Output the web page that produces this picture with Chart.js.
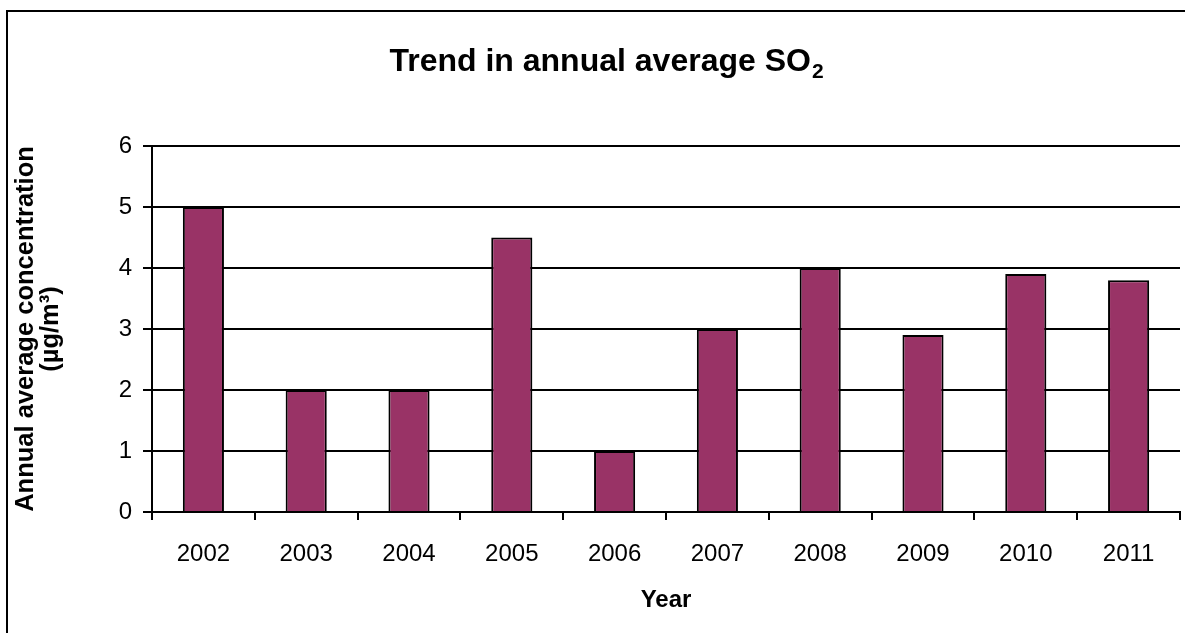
<!DOCTYPE html>
<html>
<head>
<meta charset="utf-8">
<script src="https://cdn.jsdelivr.net/npm/chart.js@4/dist/chart.umd.min.js"></script>
<style>
  html, body { margin: 0; padding: 0; background: #fff; overflow: hidden; }
  #wrap { position: relative; width: 1185px; height: 633px; }
  #frame { position: absolute; left: 6px; top: 10px; width: 2000px; height: 2000px;
           border-left: 2px solid #000; border-top: 2px solid #000; pointer-events: none; }
  canvas { position: absolute; left: 0; top: 0; }
</style>
</head>
<body>
<div id="wrap">
  <canvas id="c" width="1185" height="633"></canvas>
  <div id="frame"></div>
</div>
<script>
// Annual average SO2 concentration by year
const years = ['2002', '2003', '2004', '2005', '2006', '2007', '2008', '2009', '2010', '2011'];
const so2Values = [5, 2, 2, 4.5, 1, 3, 4, 2.9, 3.9, 3.8];
const yTicks = [0, 1, 2, 3, 4, 5, 6];

const FONT = '"Liberation Sans", Arial, Helvetica, sans-serif';

// Title with a subscript "2" drawn after the main text
const subscriptTitle = {
  id: 'subscriptTitle',
  afterDraw(chart) {
    const ctx = chart.ctx;
    const main = 'Trend in annual average SO';
    const sub = '2';
    ctx.save();
    ctx.fillStyle = '#000';
    ctx.textBaseline = 'alphabetic';
    ctx.font = 'bold 32px ' + FONT;
    const wMain = ctx.measureText(main).width;
    ctx.font = 'bold 21px ' + FONT;
    const wSub = ctx.measureText(sub).width;
    const cx = 606;
    const x0 = cx - (wMain + wSub) / 2;
    const baseline = 71;
    ctx.font = 'bold 32px ' + FONT;
    ctx.textAlign = 'left';
    ctx.fillText(main, x0, baseline);
    ctx.font = 'bold 21px ' + FONT;
    ctx.fillText(sub, x0 + wMain + 1, baseline + 7);
    ctx.restore();
  }
};

new Chart(document.getElementById('c'), {
  type: 'bar',
  data: {
    labels: years,
    datasets: [{
      data: so2Values,
      backgroundColor: '#993366',
      borderColor: '#000',
      borderWidth: 2,
      barPercentage: 0.4,
      categoryPercentage: 1.0
    }]
  },
  options: {
    responsive: false,
    animation: false,
    layout: { padding: { top: 146, right: 5, left: 0, bottom: 0 } },
    plugins: {
      legend: { display: false },
      title: { display: false },
      tooltip: { enabled: false }
    },
    scales: {
      x: {
        afterFit(scale) { scale.height = 121; },
        grid: {
          offset: true,
          drawOnChartArea: false,
          drawTicks: true,
          tickLength: 8,
          color: '#000',
          lineWidth: 2
        },
        border: { display: true, color: '#000', width: 2 },
        ticks: {
          color: '#000',
          padding: 20,
          font: { family: FONT, size: 24 },
          maxRotation: 0
        },
        title: {
          display: true,
          text: 'Year',
          color: '#000',
          font: { family: FONT, size: 24, weight: 'bold', lineHeight: 1 },
          padding: { top: 0, bottom: 21 }
        }
      },
      y: {
        min: 0,
        max: 6,
        afterFit(scale) { scale.width = 152; },
        afterBuildTicks(scale) { scale.ticks = yTicks.map(v => ({ value: v })); },
        grid: {
          color: '#000',
          lineWidth: 2,
          drawTicks: true,
          tickLength: 9
        },
        border: { display: true, color: '#000', width: 2 },
        ticks: {
          color: '#000',
          padding: 11,
          font: { family: FONT, size: 24 }
        },
        title: {
          display: true,
          text: ['Annual average concentration', '(µg/m³)'],
          color: '#000',
          font: { family: FONT, size: 25.5, weight: 'bold', lineHeight: 1 },
          padding: { top: 13, bottom: 0 }
        }
      }
    }
  },
  plugins: [subscriptTitle]
});
</script>
</body>
</html>
